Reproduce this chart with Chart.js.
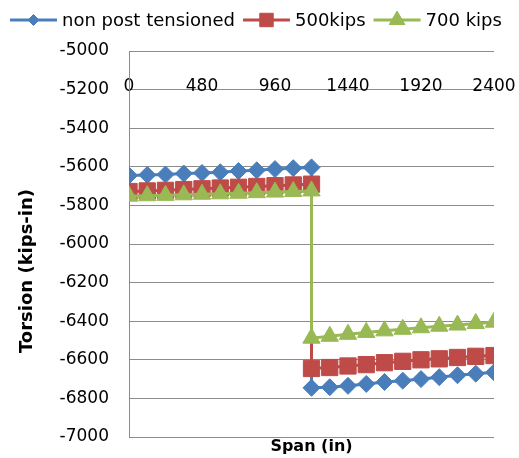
<!DOCTYPE html>
<html>
<head>
<meta charset="utf-8">
<style>
  html, body { margin: 0; padding: 0; background: #fff; }
  canvas { display: block; }
</style>
<script src="https://cdn.jsdelivr.net/npm/chart.js@4.4.1/dist/chart.umd.min.js"></script>
</head>
<body>
<canvas id="c" width="519" height="458"></canvas>
<script>
// Position along the span (in); 1200 appears twice for the step in torsion
const spanIn = [0, 120, 240, 360, 480, 600, 720, 840, 960, 1080, 1200,
                1200, 1320, 1440, 1560, 1680, 1800, 1920, 2040, 2160, 2280, 2400];

// Torsion (kips-in) per case
const nonPostTensioned = [-5645, -5642, -5640, -5635, -5632, -5628, -5622, -5618, -5612, -5607, -5603,
                          -6745, -6742, -6735, -6725, -6715, -6708, -6700, -6690, -6680, -6672, -6665];
const kips500 = [-5728, -5725, -5722, -5718, -5714, -5710, -5706, -5702, -5698, -5694, -5690,
                 -6645, -6640, -6632, -6625, -6615, -6608, -6600, -6595, -6588, -6582, -6578];
const kips700 = [-5752, -5750, -5748, -5745, -5742, -5740, -5737, -5734, -5731, -5728, -5725,
                 -6488, -6478, -6468, -6458, -6450, -6442, -6434, -6426, -6420, -6412, -6405];

const seriesNames = ['non post tensioned', '500kips', '700 kips'];
const xTickValues = [0, 480, 960, 1440, 1920, 2400];
const yTickValues = [-7000, -6800, -6600, -6400, -6200, -6000, -5800, -5600, -5400, -5200, -5000];

const FONT = '"DejaVu Sans", Verdana, sans-serif';
const GRID = '#8c8c8c';

const toPoints = ys => spanIn.map((x, i) => ({ x, y: ys[i] }));

function series(label, ys, color, style, radius, order) {
  return {
    label, data: toPoints(ys), showLine: true,
    borderColor: color, backgroundColor: color, borderWidth: 3,
    pointStyle: style, pointRadius: radius, pointHoverRadius: radius,
    pointBorderWidth: 1, pointBackgroundColor: color, pointBorderColor: color,
    order
  };
}

// Legend drawn as line + marker samples, plus the two axis titles
const decorations = {
  id: 'decorations',
  afterDraw(chart) {
    const ctx = chart.ctx;
    ctx.save();
    // legend
    const legendSizes = [5.5, 9.5, 9];
    let x = 10;
    const y = 20;
    ctx.font = '18px ' + FONT;
    ctx.textBaseline = 'middle';
    ctx.textAlign = 'left';
    chart.data.datasets.forEach((ds, i) => {
      ctx.strokeStyle = ds.borderColor;
      ctx.lineWidth = 3;
      ctx.beginPath();
      ctx.moveTo(x, y);
      ctx.lineTo(x + 47, y);
      ctx.stroke();
      ctx.fillStyle = ds.borderColor;
      ctx.lineWidth = 1;
      Chart.helpers.drawPoint(ctx, { pointStyle: ds.pointStyle, radius: legendSizes[i], rotation: 0, borderWidth: 1 }, x + 23.5, y);
      ctx.fillStyle = '#000';
      ctx.fillText(ds.label, x + 52, y + 1);
      x += 52 + ctx.measureText(ds.label).width + 8;
    });
    // axis titles
    ctx.fillStyle = '#000';
    ctx.textAlign = 'center';
    ctx.textBaseline = 'middle';
    ctx.font = 'bold 16px ' + FONT;
    const area = chart.chartArea;
    ctx.fillText('Span (in)', (area.left + area.right) / 2, 447);
    ctx.translate(27, 271);
    ctx.rotate(-Math.PI / 2);
    ctx.font = 'bold 18px ' + FONT;
    ctx.fillText('Torsion (kips-in)', 0, 0);
    ctx.restore();
  }
};

new Chart(document.getElementById('c'), {
  type: 'scatter',
  data: {
    datasets: [
      series(seriesNames[0], nonPostTensioned, '#4A7EBB', 'rectRot', 8.5, 2),
      series(seriesNames[1], kips500, '#BE4B48', 'rect', 11.5, 1),
      series(seriesNames[2], kips700, '#98B954', 'triangle', 10, 0)
    ]
  },
  options: {
    responsive: false,
    animation: false,
    devicePixelRatio: 1,
    layout: { padding: { top: 51, right: 25, bottom: 21, left: 0 } },
    plugins: { legend: { display: false }, tooltip: { enabled: false } },
    scales: {
      x: {
        type: 'linear',
        position: { y: -5200 },
        min: 0, max: 2400,
        afterBuildTicks: s => { s.ticks = xTickValues.map(v => ({ value: v })); },
        afterFit: s => { s.height = 0; },
        grid: { display: false, drawTicks: false },
        border: { display: false },
        ticks: {
          color: '#000', font: { family: FONT, size: 17 }, padding: -13,
          maxRotation: 0, autoSkip: false,
          callback: v => String(v)
        }
      },
      y: {
        type: 'linear',
        min: -7000, max: -5000,
        afterBuildTicks: s => { s.ticks = yTickValues.map(v => ({ value: v })); },
        afterFit: s => { s.width = 129; },
        grid: { color: GRID, lineWidth: 1, drawTicks: true, tickLength: 20, tickColor: 'rgba(0,0,0,0)' },
        border: { color: GRID, width: 1 },
        ticks: {
          color: '#000', font: { family: FONT, size: 17 }, padding: 0,
          autoSkip: false,
          callback: v => String(v)
        }
      }
    }
  },
  plugins: [decorations]
});
</script>
</body>
</html>
